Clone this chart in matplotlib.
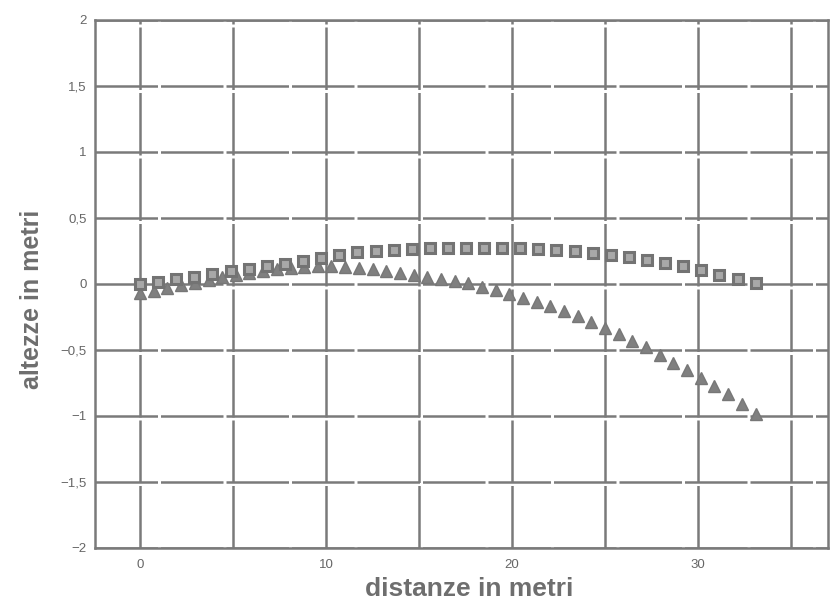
import matplotlib
matplotlib.use("Agg")
import matplotlib.pyplot as plt
from matplotlib.ticker import FixedLocator, MultipleLocator

# readings from the picture (metri)
x_quadrati = [0.00, 0.97, 1.95, 2.92, 3.89, 4.87, 5.84, 6.81, 7.79, 8.76,
              9.74, 10.71, 11.68, 12.66, 13.63, 14.60, 15.58, 16.55, 17.52, 18.50,
              19.47, 20.44, 21.42, 22.39, 23.36, 24.34, 25.31, 26.28, 27.26, 28.23,
              29.20, 30.18, 31.15, 32.13, 33.10]
y_quadrati = [0.00, 0.015, 0.035, 0.055, 0.075, 0.095, 0.115, 0.135, 0.155, 0.175,
              0.20, 0.22, 0.24, 0.25, 0.26, 0.265, 0.27, 0.275, 0.275, 0.275,
              0.275, 0.27, 0.265, 0.26, 0.25, 0.235, 0.22, 0.205, 0.185, 0.16,
              0.135, 0.105, 0.07, 0.04, 0.01]

x_triangoli = [0.00, 0.74, 1.47, 2.21, 2.94, 3.68, 4.41, 5.15, 5.88, 6.62,
               7.35, 8.09, 8.82, 9.56, 10.29, 11.03, 11.76, 12.50, 13.24, 13.97,
               14.71, 15.44, 16.18, 16.91, 17.65, 18.38, 19.12, 19.85, 20.59, 21.32,
               22.06, 22.79, 23.53, 24.26, 25.00, 25.74, 26.47, 27.21, 27.94, 28.68,
               29.41, 30.15, 30.88, 31.62, 32.35, 33.10]
y_triangoli = [-0.07, -0.05, -0.03, -0.01, 0.01, 0.03, 0.05, 0.065, 0.08, 0.095,
               0.11, 0.12, 0.13, 0.135, 0.135, 0.13, 0.12, 0.11, 0.10, 0.085,
               0.07, 0.055, 0.04, 0.02, 0.005, -0.02, -0.045, -0.075, -0.105, -0.135,
               -0.17, -0.205, -0.245, -0.285, -0.33, -0.38, -0.43, -0.48, -0.54, -0.60,
               -0.65, -0.71, -0.77, -0.835, -0.91, -0.985]

x_ticks = [0, 10, 20, 30]
y_ticks = [-2, -1.5, -1, -0.5, 0, 0.5, 1, 1.5, 2]
y_labels = ["\u22122", "\u22121,5", "\u22121", "\u22120,5", "0", "0,5", "1", "1,5", "2"]

grigio = "#7a7a7a"
plt.rcParams['font.family'] = ['Liberation Sans', 'DejaVu Sans']

fig = plt.figure(figsize=(8.34, 6.15), dpi=100)
ax = fig.add_axes([0.114, 0.109, 0.879, 0.8585])

ax.plot(x_triangoli, y_triangoli, linestyle="none", marker="^", markersize=8,
        color="#808080", markeredgecolor="#777777", zorder=3)
ax.plot(x_quadrati, y_quadrati, linestyle="none", marker="s", markersize=7.5,
        markerfacecolor="#a8a8a8", markeredgecolor="#737373", markeredgewidth=2.2, zorder=4)

ax.set_xlim(-2.42, 37.0)
ax.set_ylim(-2, 2)
ax.xaxis.set_major_locator(FixedLocator(x_ticks))
ax.xaxis.set_minor_locator(MultipleLocator(5))
ax.set_yticks(y_ticks)
ax.set_yticklabels(y_labels)

ax.grid(True, which="both", axis="x", color=grigio, linewidth=1.8, linestyle=(0, (25, 1.2)))
ax.grid(True, which="major", axis="y", color=grigio, linewidth=1.8, linestyle=(0, (25, 1.2)))
ax.set_axisbelow(True)
for s in ax.spines.values():
    s.set_color(grigio)
    s.set_linewidth(1.8)

ax.tick_params(which="both", length=0, colors="#666666", labelsize=9.5, pad=8)
ax.tick_params(axis="y", pad=6)

ax.set_xlabel("distanze in metri", fontsize=19, fontweight="bold", color="#6e6e6e")
ax.set_ylabel("altezze in metri", fontsize=18, fontweight="bold", color="#6e6e6e")
ax.xaxis.set_label_coords(0.51, -0.055)
ax.yaxis.set_label_coords(-0.07, 0.47)

fig.savefig("out.png", dpi=100)
